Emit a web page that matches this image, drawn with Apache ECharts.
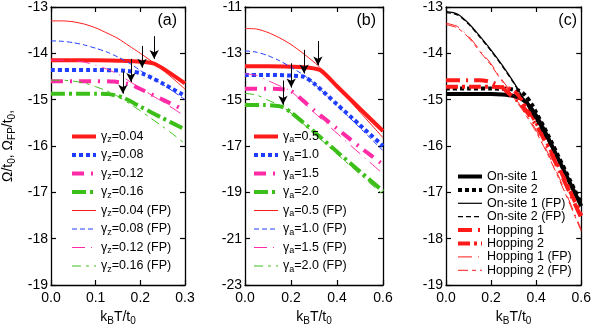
<!DOCTYPE html>
<html>
<head>
<meta charset="utf-8">
<script src="https://cdn.jsdelivr.net/npm/echarts/dist/echarts.min.js"></script>
<style>
html,body{margin:0;padding:0;background:#fff;}
#chart{width:594px;height:331px;}
</style>
</head>
<body>
<div id="chart"></div>
<script>
// ---- panel (a): kBT/t0 from 0 to 0.3 ----
const aRed = [[0,-14.15],[0.1,-14.15],[0.15,-14.16],[0.2,-14.18],[0.233,-14.23],[0.3,-14.65]]
const aBlue = [[0,-14.36],[0.1,-14.36],[0.15,-14.37],[0.18,-14.39],[0.205,-14.44],[0.25,-14.65],[0.3,-14.92]]
const aPink = [[0,-14.6],[0.1,-14.6],[0.14,-14.61],[0.178,-14.67],[0.2,-14.77],[0.25,-15.0],[0.3,-15.23]]
const aGreen = [[0,-14.87],[0.1,-14.87],[0.13,-14.88],[0.16,-14.95],[0.2,-15.15],[0.25,-15.4],[0.3,-15.64]]
const aRedFP = [[0,-13.3],[0.025,-13.3],[0.05,-13.32],[0.075,-13.37],[0.1,-13.45],[0.125,-13.56],[0.15,-13.68],[0.175,-13.84],[0.2,-14.0],[0.225,-14.17],[0.25,-14.36],[0.275,-14.56],[0.3,-14.77]]
const aBlueFP = [[0,-13.73],[0.025,-13.74],[0.05,-13.77],[0.075,-13.82],[0.1,-13.89],[0.125,-13.97],[0.15,-14.08],[0.175,-14.21],[0.2,-14.37],[0.225,-14.52],[0.25,-14.67],[0.275,-14.83],[0.3,-15.0]]
const aPinkFP = [[0,-14.15],[0.025,-14.15],[0.05,-14.16],[0.075,-14.19],[0.1,-14.26],[0.125,-14.34],[0.15,-14.45],[0.175,-14.6],[0.2,-14.75],[0.225,-14.9],[0.25,-15.05],[0.275,-15.2],[0.3,-15.36]]
const aGreenFP = [[0,-14.58],[0.025,-14.58],[0.05,-14.6],[0.075,-14.64],[0.1,-14.72],[0.125,-14.81],[0.15,-14.93],[0.175,-15.08],[0.2,-15.24],[0.225,-15.41],[0.25,-15.58],[0.275,-15.76],[0.3,-15.95]]
// arrows: [x, yStart, yTip]
const aArrows = [[0.231,-13.63,-14.2],[0.204,-13.84,-14.39],[0.179,-14.12,-14.7],[0.161,-14.39,-14.95]]

// ---- panel (b): kBT/t0 from 0 to 0.6 ----
const bRed = [[0,-13.56],[0.1,-13.56],[0.2,-13.58],[0.28,-13.62],[0.33,-13.74],[0.4,-14.42],[0.5,-15.39],[0.6,-16.35]]
const bBlue = [[0,-13.93],[0.1,-13.93],[0.2,-13.96],[0.257,-14.02],[0.3,-14.3],[0.4,-15.2],[0.5,-16.1],[0.6,-17.0]]
const bPink = [[0,-14.53],[0.1,-14.53],[0.16,-14.55],[0.2,-14.62],[0.3,-15.45],[0.4,-16.25],[0.5,-17.05],[0.6,-17.8]]
const bGreen = [[0,-15.23],[0.08,-15.23],[0.13,-15.26],[0.165,-15.32],[0.2,-15.55],[0.3,-16.38],[0.4,-17.25],[0.5,-18.1],[0.6,-18.95]]
const bRedFP = [[0,-11.93],[0.05,-11.95],[0.1,-12.1],[0.15,-12.33],[0.2,-12.62],[0.25,-12.98],[0.3,-13.38],[0.33,-13.65],[0.4,-14.43],[0.5,-15.54],[0.6,-16.64]]
const bBlueFP = [[0,-12.89],[0.05,-12.95],[0.1,-13.1],[0.15,-13.32],[0.2,-13.6],[0.257,-13.95],[0.3,-14.3],[0.4,-15.25],[0.5,-16.22],[0.6,-17.2]]
const bPinkFP = [[0,-13.88],[0.05,-13.95],[0.1,-14.18],[0.15,-14.4],[0.2,-14.64],[0.3,-15.55],[0.4,-16.45],[0.5,-17.33],[0.6,-18.2]]
const bGreenFP = [[0,-14.73],[0.05,-14.8],[0.1,-15.02],[0.165,-15.32],[0.2,-15.58],[0.3,-16.45],[0.4,-17.35],[0.5,-18.22],[0.6,-19.1]]
const bArrows = [[0.317,-12.47,-13.6],[0.257,-12.85,-13.95],[0.201,-13.43,-14.56],[0.165,-14.17,-15.3]]

// ---- panel (c) ----
const cOn1 = [[0,-14.88],[0.1,-14.88],[0.2,-14.88],[0.25,-14.89],[0.3,-14.92],[0.33,-14.97],[0.36,-15.08],[0.4,-15.35],[0.45,-15.8],[0.5,-16.3],[0.55,-16.8],[0.6,-17.3]]
const cOn2 = [[0,-14.76],[0.1,-14.76],[0.2,-14.76],[0.28,-14.77],[0.32,-14.8],[0.35,-14.9],[0.38,-15.1],[0.4,-15.28],[0.45,-15.74],[0.5,-16.24],[0.55,-16.74],[0.6,-17.25]]
const cOn1FP = [[0,-13.1],[0.05,-13.15],[0.1,-13.35],[0.15,-13.63],[0.2,-13.93],[0.25,-14.26],[0.3,-14.62],[0.35,-15.02],[0.4,-15.43],[0.45,-15.86],[0.5,-16.32],[0.55,-16.8],[0.6,-17.27]]
const cOn2FP = [[0,-13.12],[0.05,-13.17],[0.1,-13.37],[0.15,-13.65],[0.2,-13.95],[0.25,-14.28],[0.3,-14.64],[0.35,-15.04],[0.4,-15.45],[0.45,-15.88],[0.5,-16.34],[0.55,-16.82],[0.6,-17.29]]
const cHop1 = [[0,-14.58],[0.15,-14.58],[0.2,-14.62],[0.25,-14.74],[0.28,-14.87],[0.33,-15.08],[0.4,-15.55],[0.45,-16.0],[0.5,-16.5],[0.55,-17.02],[0.6,-17.55]]
const cHop2 = [[0,-14.72],[0.15,-14.72],[0.25,-14.73],[0.28,-14.76],[0.31,-14.85],[0.34,-15.02],[0.4,-15.5],[0.45,-15.95],[0.5,-16.45],[0.55,-16.97],[0.6,-17.5]]
const cHop1FP = [[0,-13.35],[0.05,-13.42],[0.1,-13.63],[0.15,-13.93],[0.2,-14.23],[0.25,-14.58],[0.3,-14.92],[0.35,-15.27],[0.4,-15.66],[0.45,-16.13],[0.5,-16.66],[0.55,-17.22],[0.6,-17.8]]
const cHop2FP = [[0,-13.38],[0.05,-13.45],[0.1,-13.66],[0.15,-13.96],[0.2,-14.26],[0.25,-14.61],[0.3,-14.95],[0.35,-15.3],[0.4,-15.7],[0.45,-16.17],[0.5,-16.7],[0.55,-17.26],[0.6,-17.84]]

const FONT = '"Liberation Sans", Arial, sans-serif'
const RED = '#ff1a1a', BLUE = '#1f3dff', PINK = '#ff2aa5', GREEN = '#3dbf1a', BLACK = '#000'

const chart = echarts.init(document.getElementById('chart'))

function line(name, data, panel, color, width, dash){
    return {
        name: name,
        type: 'line',
        xAxisIndex: panel * 2,
        yAxisIndex: panel * 2,
        data: data,
        symbol: 'none',
        smooth: 0.25,
        lineStyle: { color: color, width: width, type: dash || 'solid', cap: 'butt' },
        itemStyle: { color: color },
        z: width > 2 ? 2 : 3
    }
}

function arrows(list){
    return {
        silent: true,
        symbol: ['none', 'arrow'],
        symbolSize: [7, 9],
        label: { show: false },
        lineStyle: { color: BLACK, width: 1, type: 'solid' },
        data: list.map(a => [{ coord: [a[0], a[1]] }, { coord: [a[0], a[2] + 0.08] }])
    }
}

const axisLine = { onZero: false, lineStyle: { color: BLACK, width: 1.3 } }
const axisTick = { inside: true, length: 5, lineStyle: { color: BLACK, width: 1.2 } }
const sub = {
    n: { fontSize: 14, fontFamily: FONT, color: BLACK, lineHeight: 18, verticalAlign: 'middle' },
    s: { fontSize: 10, fontFamily: FONT, color: BLACK, lineHeight: 8, verticalAlign: 'bottom' }
}

function xAxes(p, max, step){
    return [
        { gridIndex: p, type: 'value', min: 0, max: max, interval: step, position: 'bottom',
          axisLine: axisLine, axisTick: axisTick, splitLine: { show: false },
          axisLabel: { color: BLACK, fontSize: 14, fontFamily: FONT, margin: 6, formatter: v => v.toFixed(1) },
          name: '{n|k}{s|B}{n|T/t}{s|0}', nameLocation: 'middle', nameGap: 23,
          nameTextStyle: { rich: sub } },
        { gridIndex: p, type: 'value', min: 0, max: max, interval: step, position: 'top',
          axisLine: axisLine, axisTick: axisTick, splitLine: { show: false }, axisLabel: { show: false } }
    ]
}

function yAxes(p, min, max, step, name){
    return [
        { gridIndex: p, type: 'value', min: min, max: max, interval: step, position: 'left',
          axisLine: axisLine, axisTick: axisTick, splitLine: { show: false },
          axisLabel: { color: BLACK, fontSize: 14, fontFamily: FONT, margin: 3 },
          name: name || '', nameLocation: 'middle', nameRotate: 90, nameGap: 34,
          nameTextStyle: { rich: sub } },
        { gridIndex: p, type: 'value', min: min, max: max, interval: step, position: 'right',
          axisLine: axisLine, axisTick: axisTick, splitLine: { show: false }, axisLabel: { show: false } }
    ]
}

const gammaLegend = name => {
    const m = name.match(/^γ([za])(.*)$/)
    return '{n|γ}{s|' + m[1] + '}{n|' + m[2] + '}'
}
const legendRich = {
    n: { fontSize: 12.5, fontFamily: FONT, color: BLACK, lineHeight: 16, verticalAlign: 'middle' },
    s: { fontSize: 9, fontFamily: FONT, color: BLACK, lineHeight: 7, verticalAlign: 'bottom' }
}
// legend shows just the line sample, no marker
const legendBase = {
    orient: 'vertical', padding: 0, itemWidth: 24,
    itemStyle: { opacity: 0, borderWidth: 0 },
    lineStyle: { width: 'inherit', type: 'inherit', cap: 'butt' }
}

const seriesA = [
    line('γz=0.04', aRed, 0, RED, 4),
    line('γz=0.08', aBlue, 0, BLUE, 4, [4, 3]),
    line('γz=0.12', aPink, 0, PINK, 4, [12, 7, 2, 7]),
    line('γz=0.16', aGreen, 0, GREEN, 4, [14, 4, 3, 4]),
    line('γz=0.04 (FP)', aRedFP, 0, RED, 1),
    line('γz=0.08 (FP)', aBlueFP, 0, BLUE, 1, [5, 3]),
    line('γz=0.12 (FP)', aPinkFP, 0, PINK, 1, [13, 6, 1, 6]),
    line('γz=0.16 (FP)', aGreenFP, 0, GREEN, 1, [9, 5, 3, 5])
]
seriesA[0].markLine = arrows(aArrows)

const seriesB = [
    line('γa=0.5', bRed, 1, RED, 4),
    line('γa=1.0', bBlue, 1, BLUE, 4, [4, 3]),
    line('γa=1.5', bPink, 1, PINK, 4, [12, 7, 2, 7]),
    line('γa=2.0', bGreen, 1, GREEN, 4, [14, 4, 3, 4]),
    line('γa=0.5 (FP)', bRedFP, 1, RED, 1),
    line('γa=1.0 (FP)', bBlueFP, 1, BLUE, 1, [5, 3]),
    line('γa=1.5 (FP)', bPinkFP, 1, PINK, 1, [13, 6, 1, 6]),
    line('γa=2.0 (FP)', bGreenFP, 1, GREEN, 1, [9, 5, 3, 5])
]
seriesB[0].markLine = arrows(bArrows)

const seriesC = [
    line('On-site 1', cOn1, 2, BLACK, 4),
    line('On-site 2', cOn2, 2, BLACK, 4, [4, 3]),
    line('On-site 1 (FP)', cOn1FP, 2, BLACK, 1.2),
    line('On-site 2 (FP)', cOn2FP, 2, BLACK, 1.2, [5, 3]),
    line('Hopping 1', cHop1, 2, RED, 4, [14, 6, 2, 6]),
    line('Hopping 2', cHop2, 2, RED, 4, [12, 4, 3, 4]),
    line('Hopping 1 (FP)', cHop1FP, 2, RED, 1, [14, 6, 1, 6]),
    line('Hopping 2 (FP)', cHop2FP, 2, RED, 1, [10, 4, 4, 4])
]

const option = {
    animation: false,
    backgroundColor: '#fff',
    grid: [
        { left: 50, top: 7, width: 135, height: 283 },
        { left: 245, top: 7, width: 138, height: 283 },
        { left: 446, top: 7, width: 138, height: 283 }
    ],
    xAxis: [].concat(xAxes(0, 0.3, 0.1), xAxes(1, 0.6, 0.2), xAxes(2, 0.6, 0.2)),
    yAxis: [].concat(
        yAxes(0, -19, -13, 1, '{n|Ω/t}{s|0}{n|, Ω}{s|FP}{n|/t}{s|0}{n|,}'),
        yAxes(1, -23, -11, 2),
        yAxes(2, -19, -13, 1)
    ),
    legend: [
        Object.assign({}, legendBase, { left: 70, top: 130, itemHeight: 16, itemGap: 4,
          data: seriesA.map(s => s.name), formatter: gammaLegend,
          textStyle: { rich: legendRich } }),
        Object.assign({}, legendBase, { left: 252, top: 130, itemHeight: 16, itemGap: 4,
          data: seriesB.map(s => s.name), formatter: gammaLegend,
          textStyle: { rich: legendRich } }),
        Object.assign({}, legendBase, { left: 456, top: 170, itemHeight: 14, itemGap: 0.4,
          data: seriesC.map(s => s.name),
          textStyle: { fontSize: 12.5, fontFamily: FONT, color: BLACK } })
    ],
    graphic: [
        { type: 'text', x: 177, y: 13, style: { text: '(a)', font: '16px ' + FONT, fill: BLACK, textAlign: 'right' } },
        { type: 'text', x: 376, y: 13, style: { text: '(b)', font: '16px ' + FONT, fill: BLACK, textAlign: 'right' } },
        { type: 'text', x: 577, y: 13, style: { text: '(c)', font: '16px ' + FONT, fill: BLACK, textAlign: 'right' } }
    ],
    series: [].concat(seriesA, seriesB, seriesC)
}

chart.setOption(option)
</script>
</body>
</html>
